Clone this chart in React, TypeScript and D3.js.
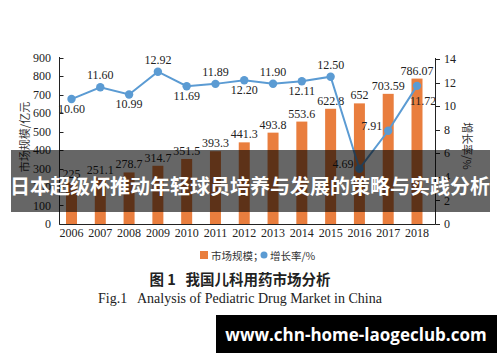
import React from "react";
import * as d3 from "d3";

const years = ["2006","2007","2008","2009","2010","2011","2012","2013","2014","2015","2016","2017","2018"];
const marketSize = [225, 251.1, 278.7, 314.7, 351.5, 393.3, 441.3, 493.8, 553.6, 622.8, 652, 703.59, 786.07];
const marketLabels = ["225","251.1","278.7","314.7","351.5","393.3","441.3","493.8","553.6","622.8","652","703.59","786.07"];
const growth = [10.60, 11.60, 10.99, 12.92, 11.69, 11.89, 12.20, 11.90, 12.11, 12.50, 4.69, 7.91, 11.72];
const growthLabels = ["10.60","11.60","10.99","12.92","11.69","11.89","12.20","11.90","12.11","12.50","4.69","7.91","11.72"];
// label placement: a = above, b = below, l = left
const growthPos = ["b","a","b","a","b","a","b","a","b","a","l","l","br"];
const leftTicks = [0,100,200,300,400,500,600,700,800,900];
const rightTicks = [0,2,4,6,8,10,12,14];

const ORANGE = "#E97E3E";
const BLUE = "#5B9BD3";
const SERIF = "'Liberation Serif', 'Times New Roman', serif";
const CJK = "'Noto Sans CJK SC', sans-serif";

export default function App() {
  const x = d3.scalePoint<string>().domain(years).range([71.5, 417]);
  const yL = d3.scaleLinear().domain([0, 900]).range([224, 57.5]);
  const yR = d3.scaleLinear().domain([0, 14]).range([224, 59]);
  const barW = 11;
  const line = d3.line<number>().x((_, i) => x(years[i])!).y((d) => yR(d));

  return (
    <svg width={500} height={362} style={{ position: "absolute", left: 0, top: 0, background: "#fff" }}>
      <rect x={0} y={0} width={500} height={362} fill="#fff" />
      {/* bars */}
      {marketSize.map((v, i) => (
        <rect key={"b" + i} x={x(years[i])! - barW / 2} y={yL(v)} width={barW} height={yL(0) - yL(v)} fill={ORANGE} />
      ))}
      {marketSize.map((v, i) => (
        <text key={"bl" + i} x={x(years[i])!} y={yL(v) - 4} textAnchor="middle" fontFamily={SERIF} fontSize={12} fill="#222">
          {marketLabels[i]}
        </text>
      ))}
      {/* axes */}
      <line x1={59.5} y1={57} x2={59.5} y2={224.5} stroke="#222" strokeWidth={1} />
      <line x1={59.5} y1={224.5} x2={435.5} y2={224.5} stroke="#222" strokeWidth={1} />
      <line x1={435.5} y1={58} x2={435.5} y2={224.5} stroke="#222" strokeWidth={1} />
      {leftTicks.map((t) => (
        <g key={"lt" + t}>
          <line x1={59.5} x2={63.5} y1={Math.round(yL(t)) + 0.5} y2={Math.round(yL(t)) + 0.5} stroke="#222" />
          <text x={51} y={yL(t)} dy="0.35em" textAnchor="end" fontFamily={SERIF} fontSize={12} fill="#222">{t}</text>
        </g>
      ))}
      {rightTicks.map((t) => (
        <g key={"rt" + t}>
          <line x1={435.5} x2={440} y1={Math.round(yR(t)) + 0.5} y2={Math.round(yR(t)) + 0.5} stroke="#222" />
          <text x={444} y={yR(t)} dy="0.35em" textAnchor="start" fontFamily={SERIF} fontSize={12} fill="#222">{t}</text>
        </g>
      ))}
      {years.map((yv) => (
        <text key={"x" + yv} x={x(yv)!} y={237} textAnchor="middle" fontFamily={SERIF} fontSize={12} fill="#222">{yv}</text>
      ))}
      {/* line */}
      <path d={line(growth) || ""} fill="none" stroke={BLUE} strokeWidth={2} />
      {growth.map((v, i) => (
        <circle key={"c" + i} cx={x(years[i])!} cy={yR(v)} r={4.2} fill={BLUE} />
      ))}
      {growth.map((v, i) => {
        const px = x(years[i])!;
        const py = yR(v);
        const p = growthPos[i];
        let tx = px, ty = py, anchor: "middle" | "end" | "start" = "middle";
        if (p === "a") ty = py - 8;
        else if (p === "b") ty = py + 14;
        else if (p === "l") { tx = px - 6; ty = py - 1; anchor = "end"; }
        else if (p === "br") { tx = px + 6; ty = py + 19; }
        return (
          <text key={"gl" + i} x={tx} y={ty} textAnchor={anchor} fontFamily={SERIF} fontSize={12} fill="#222">{growthLabels[i]}</text>
        );
      })}
      {/* axis titles */}
      <text transform="translate(24,137) rotate(-90)" textAnchor="middle" dominantBaseline="central" fontFamily={CJK} fontSize={11} fill="#333">市场规模/亿元</text>
      <text transform="translate(468,146) rotate(90)" textAnchor="middle" dominantBaseline="central" fontFamily={CJK} fontSize={11} fill="#333">增长率/%</text>
      {/* legend */}
      <rect x={200} y={251} width={8} height={8} fill={ORANGE} />
      <text x={211} y={255} dominantBaseline="central" fontFamily={CJK} fontSize={10.5} fill="#333">市场规模；</text>
      <circle cx={264} cy={255} r={3.5} fill={BLUE} />
      <text x={270} y={255} dominantBaseline="central" fontFamily={CJK} fontSize={10.5} fill="#333">增长率/%</text>
      {/* captions */}
      <text x={240} y={285} textAnchor="middle" fontFamily={CJK} fontWeight={700} fontSize={14.5} fill="#222" style={{ whiteSpace: "pre" }}>{"图 1   我国儿科用药市场分析"}</text>
      <text x={240} y={303} textAnchor="middle" fontFamily={SERIF} fontSize={14} fill="#222" style={{ whiteSpace: "pre" }}>{"Fig.1   Analysis of Pediatric Drug Market in China"}</text>
      {/* banner overlay */}
      <rect x={11} y={150} width={479} height={62} fill="rgba(0,0,0,0.6)" />
      <text x={250} y={185} textAnchor="middle" dominantBaseline="central" fontFamily={CJK} fontWeight={700} fontSize={20} fill="#fff">日本超级杯推动年轻球员培养与发展的策略与实践分析</text>
      {/* watermark */}
      <rect x={216} y={315} width={281} height={38} fill="#000" />
      <text x={356} y={334} textAnchor="middle" dominantBaseline="central" fontFamily="'Open Sans', sans-serif" fontWeight={700} fontSize={17} fill="#fff">www.chn-home-laogeclub.com</text>
    </svg>
  );
}
